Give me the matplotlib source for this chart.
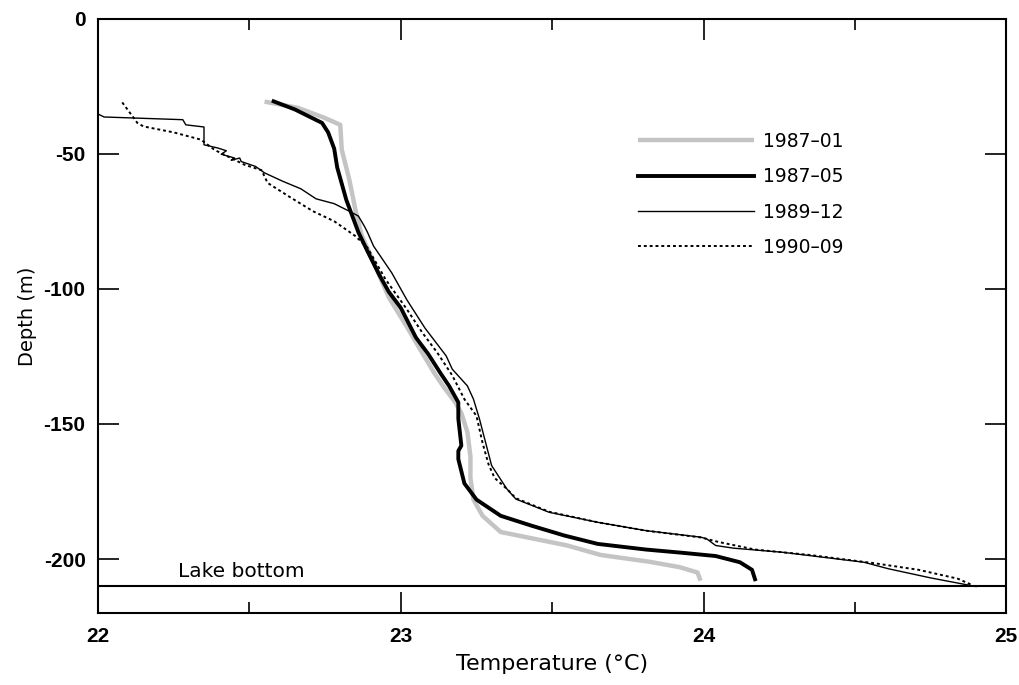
import matplotlib
matplotlib.use("Agg")
import matplotlib.pyplot as plt
from matplotlib.ticker import MultipleLocator

plt.rcParams['font.family'] = ['DejaVu Sans']
plt.rcParams['axes.unicode_minus'] = False

# ---- data (temperature °C, depth m) ----
t_8701 = [22.55, 22.66, 22.75, 22.80, 22.805, 22.83, 22.85, 22.87, 22.91, 22.96, 23.02,
          23.07, 23.11, 23.14, 23.18, 23.20, 23.22, 23.23, 23.23, 23.24, 23.27, 23.33,
          23.44, 23.55, 23.66, 23.82, 23.92, 23.98, 23.99]
d_8701 = [-30.6, -32.9, -36.7, -39.2, -48.4, -59.5, -70.6, -80, -90, -103, -114,
          -123.5, -131, -136, -142, -146, -153, -162, -170, -178, -184, -190,
          -192.5, -195, -198.5, -201, -203, -205, -208]

t_8705 = [22.58, 22.65, 22.74, 22.76, 22.78, 22.79, 22.82, 22.84, 22.86, 22.89, 22.93,
          22.96, 23.00, 23.05, 23.09, 23.13, 23.16, 23.19, 23.19, 23.20, 23.19, 23.19,
          23.21, 23.25, 23.33, 23.43, 23.54, 23.65, 23.81, 23.93, 24.04, 24.12, 24.16, 24.17]
d_8705 = [-30.5, -33.5, -38.5, -42, -48, -55, -67, -73, -79, -86, -95,
          -101, -107, -118, -124, -131, -136, -142, -148, -158, -160, -163,
          -172, -178, -184, -187.6, -191.3, -194.4, -196.5, -197.7, -198.9, -201.2, -204, -207.5]

t_8912 = [22.00, 22.02, 22.28, 22.29, 22.35, 22.35, 22.396, 22.424, 22.407, 22.451, 22.44,
          22.468, 22.473, 22.52, 22.55, 22.61, 22.67, 22.72, 22.78, 22.83, 22.86, 22.88,
          22.89, 22.91, 22.97, 23.02, 23.08, 23.15, 23.17, 23.22, 23.24, 23.26, 23.28,
          23.30, 23.35, 23.38, 23.49, 23.65, 23.81, 23.99, 24.01, 24.04, 24.10, 24.26,
          24.53, 24.61, 24.75, 24.90]
d_8912 = [-35.2, -36.3, -37.3, -39.2, -40, -46.6, -47.8, -48.8, -50.1, -51.5, -52.3,
          -51.5, -52.8, -54.6, -57, -60.1, -62.9, -66.6, -68.4, -71.2, -73, -76.8,
          -79, -84.1, -94, -104, -114.5, -124.8, -129.7, -135.9, -140.8, -148.2, -156.8,
          -165.4, -174, -177.8, -182.7, -186.4, -189.5, -191.9, -192.5, -195, -196, -197.5,
          -201.2, -203.6, -207, -210.2]

t_9009 = [22.08, 22.13, 22.15, 22.25, 22.34, 22.385, 22.45, 22.484, 22.54, 22.56, 22.63,
          22.71, 22.78, 22.85, 22.89, 22.95, 23.02, 23.07, 23.12, 23.17, 23.21, 23.25,
          23.27, 23.29, 23.31, 23.35, 23.38, 23.49, 23.65, 23.81, 23.99, 24.05, 24.17,
          24.35, 24.56, 24.71, 24.84, 24.89]
d_9009 = [-30.9, -38.5, -39.8, -42, -44.7, -48.5, -52.1, -54, -56, -60.7, -65.7,
          -71.2, -74.9, -80.4, -84.7, -96.5, -107.5, -116, -123.5, -132, -140.8, -147,
          -157, -165, -170, -174, -177.5, -182.5, -186.4, -189.5, -192, -193.7, -196.5,
          -198.5, -201.5, -204, -207.3, -209.8]

labels = ['1987–01', '1987–05', '1989–12', '1990–09']
lake_bottom = -210
x_ticks = [22, 23, 24, 25]
y_ticks = [0, -50, -100, -150, -200]

# ---- figure ----
fig = plt.figure(figsize=(10.2, 6.85), dpi=100)
ax = fig.add_axes([0.0961, 0.1051, 0.8905, 0.8672])

ax.plot(t_8701, d_8701, color='#c4c4c4', lw=3.2, label=labels[0], solid_capstyle='butt')
ax.plot(t_8705, d_8705, color='black', lw=2.8, label=labels[1])
ax.plot(t_8912, d_8912, color='black', lw=1.0, label=labels[2])
ax.plot(t_9009, d_9009, color='black', lw=1.4, ls=(0, (1.5, 1.5)), label=labels[3])

ax.axhline(lake_bottom, color='black', lw=1.5)
ax.text(22.263, -206.8, 'Lake bottom', fontsize=14.5, va='baseline', ha='left')

ax.set_xlim(22, 25)
ax.set_ylim(-220, 0)
ax.set_xticks(x_ticks)
ax.set_yticks(y_ticks)
ax.xaxis.set_minor_locator(MultipleLocator(0.5))
ax.tick_params(which='major', direction='in', length=15, width=1.2, top=True, right=True)
ax.tick_params(which='minor', direction='in', length=8, width=1.2, top=True, right=False, left=False)
ax.tick_params(axis='x', which='major', pad=10)
ax.tick_params(axis='y', which='major', pad=9)
for lab in ax.get_xticklabels() + ax.get_yticklabels():
    lab.set_fontweight('bold')
    lab.set_fontfamily(['Liberation Sans', 'DejaVu Sans'])
    lab.set_fontsize(15)

for s in ax.spines.values():
    s.set_linewidth(1.5)

ax.set_xlabel('Temperature (°C)', fontsize=16, labelpad=6)
ax.set_ylabel('Depth (m)', fontsize=14, labelpad=5)

leg = ax.legend(loc='center left', bbox_to_anchor=(0.5945, 0.7045), frameon=False,
                fontsize=13.5, handlelength=6.2, handletextpad=0.45, labelspacing=0.87,
                borderpad=0, borderaxespad=0)

fig.savefig('out.png', dpi=100)
